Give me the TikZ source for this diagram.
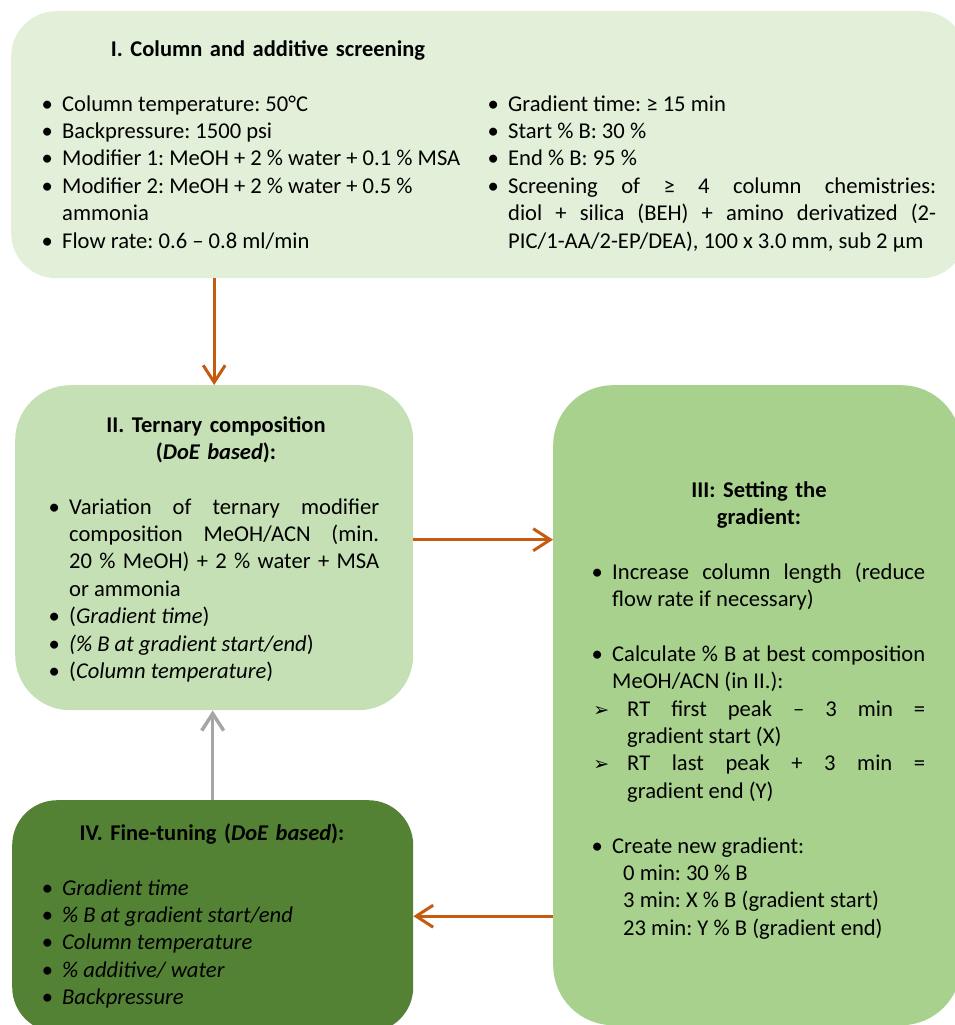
\documentclass[tikz,border=0pt]{standalone}
\usepackage{fontspec}
\setmainfont{Carlito}
\newfontfamily\symfont{DejaVu Sans}
\usetikzlibrary{arrows.meta}
\frenchspacing

\definecolor{paleg}{HTML}{E2F0D9}
\definecolor{lightg}{HTML}{C5E0B4}
\definecolor{midg}{HTML}{A9D18E}
\definecolor{darkg}{HTML}{548235}
\definecolor{arror}{HTML}{C55A11}
\definecolor{arrgray}{HTML}{A6A6A6}

\newcommand\bul{\llap{\makebox[30pt]{\textbullet}}}
\newcommand\firstitm{\leavevmode\bul}
\newcommand\itm{\par\noindent\bul}
\newcommand\arritm{\par\noindent\hangindent=15pt\hangafter=1\llap{{\symfont\fontsize{19}{19}\selectfont ➢}\hspace{3pt}}\hspace{15pt}}
\newcommand\gap{\par\vspace{\baselineskip}}

\begin{document}
\begin{tikzpicture}[x=1pt,y=-1pt,
  panel/.style={rounded corners=#1, anchor=north west, inner sep=0pt},
  boxtext/.style={anchor=base west, inner sep=0pt, align=justify, font=\fontsize{22.6}{27.4}\selectfont,
    execute at begin node={\parindent=0pt\tolerance=9999\hyphenpenalty=10000\emergencystretch=10pt}},
  boxtitle/.style={anchor=base, inner sep=0pt, text width=360pt, align=center,
    font=\fontsize{22.5}{27.4}\selectfont\bfseries},
  arr/.style={-{Straight Barb[length=17pt,width=22pt]}, line width=3pt, draw=arror}]
\useasboundingbox (0,0) rectangle (954,1025);

\node[panel=45pt, fill=paleg, minimum width=955pt, minimum height=267pt] (s1) at (11,11) {};
\node[panel=55pt, fill=lightg, minimum width=398pt, minimum height=325pt] (s2) at (15,385) {};
\node[panel=60pt, fill=midg, minimum width=408pt, minimum height=640pt] (s3) at (553,385) {};
\node[panel=45pt, fill=darkg, minimum width=401pt, minimum height=232pt] (s4) at (12,800) {};

\node[boxtitle] (t1) at (268,57) {I. Column and additive screening};
\node[boxtext, text width=420pt] (l1) at (62,111) {\firstitm Column temperature: 50°C
\itm Backpressure: 1500 psi
\itm Modifier 1: MeOH + 2 \% water + 0.1 \% MSA
\itm Modifier 2: MeOH + 2 \% water + 0.5 \%\newline ammonia
\itm Flow rate: 0.6 – 0.8 ml/min};
\node[boxtext, text width=428pt] (r1) at (508,111) {\firstitm Gradient time: ≥ 15 min
\itm Start \% B: 30 \%
\itm End \% B: 95 \%
\itm Screening of ≥ 4 column chemistries:\linebreak diol + silica (BEH) + amino derivatized (2-\linebreak PIC/1-AA/2-EP/DEA), 100 x 3.0 mm, sub 2 µm};

\node[boxtitle] (t2) at (216,432) {II. Ternary composition\\(\textit{DoE based}):};
\node[boxtext, text width=310pt] (l2) at (69,514) {\firstitm Variation of ternary modifier\linebreak composition MeOH/ACN (min.\linebreak 20 \% MeOH) + 2 \% water + MSA\linebreak or ammonia
\itm (\textit{Gradient time})
\itm \textit{(\% B at gradient start/end})
\itm (\textit{Column temperature})};

\node[boxtitle] (t3) at (759,497) {III: Setting the\\gradient:};
\node[boxtext, text width=313pt] (l3) at (612,579) {\firstitm Increase column length (reduce\linebreak flow rate if necessary)
\gap
\itm Calculate \% B at best composition\linebreak MeOH/ACN (in II.):
\arritm RT first peak – 3 min =\linebreak gradient start (X)
\arritm RT last peak + 3 min =\linebreak gradient end (Y)
\gap
\itm Create new gradient:\newline
\hspace*{11pt}0 min: 30 \% B\newline
\hspace*{11pt}3 min: X \% B (gradient start)\newline
\hspace*{11pt}23 min: Y \% B (gradient end)};

\node[boxtitle] (t4) at (212,840) {IV. Fine-tuning (\textit{DoE based}):};
\node[boxtext, text width=340pt, font=\fontsize{22.6}{27.4}\selectfont\itshape] (l4) at (62,895) {\firstitm Gradient time
\itm \% B at gradient start/end
\itm Column temperature
\itm \% additive/ water
\itm Backpressure};

\coordinate (m23) at ([yshift=8pt]s2.east);
\draw[arr] (s2.north |- s1.south) -- (s2.north);
\draw[arr] (m23) -- (m23 -| s3.west);
\draw[arr] (s4.east -| s3.west) -- (s4.east);
\draw[arr, draw=arrgray, line width=3.5pt] (s4.north) -- (s4.north |- s2.south);
\end{tikzpicture}
\end{document}
